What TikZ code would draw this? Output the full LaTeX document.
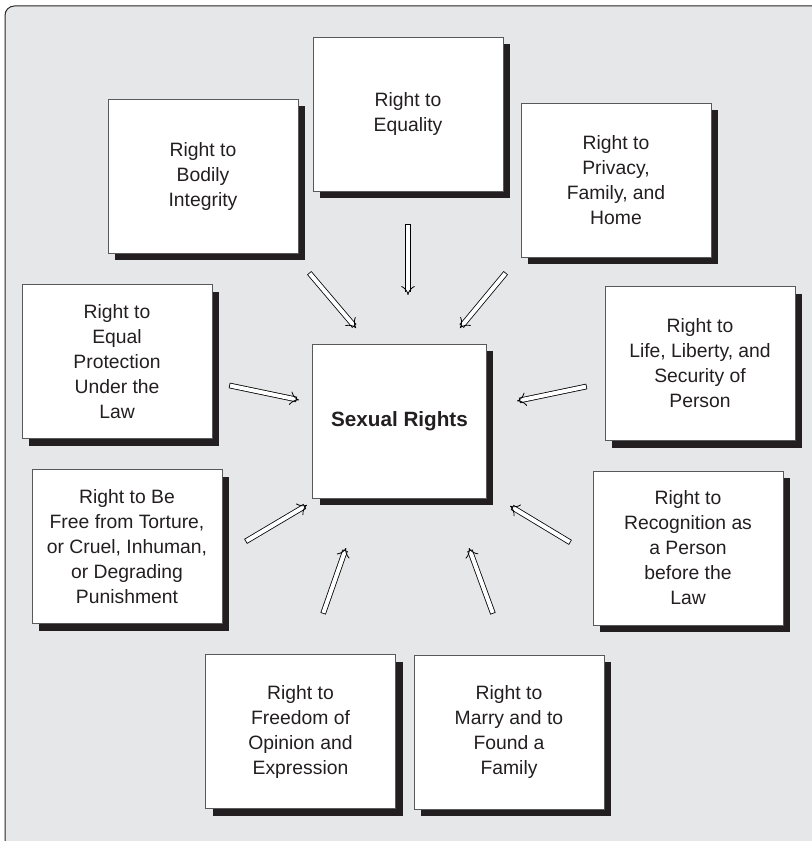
\documentclass[tikz,border=0pt]{standalone}
\usepackage{fontspec}
\setmainfont{Liberation Sans}
\usetikzlibrary{arrows.meta,shadows}
\definecolor{panelgray}{HTML}{E6E7E8}
\definecolor{shadowblack}{HTML}{231F20}
\definecolor{edgegray}{HTML}{58595B}

\begin{document}
\begin{tikzpicture}[x=0.75pt, y=-0.75pt,
	every node/.style={rectangle, draw=edgegray, line width=0.6pt, fill=white, text=shadowblack, align=center, inner sep=0pt, minimum width=142.5pt, minimum height=115.5pt, font=\fontsize{14.5}{18.75}\selectfont, drop shadow={shadow xshift=5.25pt, shadow yshift=-5.25pt, fill=shadowblack, opacity=1}},
	arr/.style={double=white, double distance=3pt, line width=0.6pt, line cap=rect, -{Implies[scale=1.4]}}]
			\useasboundingbox (0,0) rectangle (811,841);
			\draw[black!85, line width=0.75pt, fill=panelgray, rounded corners=7pt] (5,6) rectangle (840,870);
			
			\node (equality) at (408,114) {Right to\\Equality};
			\node (bodily) at (203,176.5) {Right to\\Bodily\\Integrity};
			\node (privacy) at (616,180) {Right to\\Privacy,\\Family, and\\Home};
			\node (protection) at (117,361.5) {Right to\\Equal\\Protection\\Under the\\Law};
			\node (life) at (700,363.5) {Right to\\Life, Liberty, and\\Security of\\Person};
			\node (torture) at (127,546.5) {Right to Be\\Free from Torture,\\or Cruel, Inhuman,\\or Degrading\\Punishment};
			\node (recognition) at (688,548) {Right to\\Recognition as\\a Person\\before the\\Law};
			\node (expression) at (300.5,731.5) {Right to\\Freedom of\\Opinion and\\Expression};
			\node (marry) at (509,732) {Right to\\Marry and to\\Found a\\Family};
			
			\node[minimum width=130pt, font=\fontsize{15.5}{18.75}\selectfont\bfseries] (sexual) at (399.5,421) {Sexual Rights};
			
			\coordinate (equality-tail) at (408,227);
			\coordinate (equality-head) at (408,295);
			\coordinate (bodily-tail) at (311,275);
			\coordinate (bodily-head) at (356,328);
			\coordinate (privacy-tail) at (504,275);
			\coordinate (privacy-head) at (460,328);
			\coordinate (protection-tail) at (232,386);
			\coordinate (protection-head) at (299,400);
			\coordinate (life-tail) at (584,387);
			\coordinate (life-head) at (517,401);
			\coordinate (torture-tail) at (248,540);
			\coordinate (torture-head) at (307,505);
			\coordinate (recognition-tail) at (568,541);
			\coordinate (recognition-head) at (510,506);
			\coordinate (expression-tail) at (324,611);
			\coordinate (expression-head) at (346,548);
			\coordinate (marry-tail) at (492,611);
			\coordinate (marry-head) at (469,548);
			
			\draw[arr] (equality-tail) -- (equality-head);
			\draw[arr] (bodily-tail) -- (bodily-head);
			\draw[arr] (privacy-tail) -- (privacy-head);
			\draw[arr] (protection-tail) -- (protection-head);
			\draw[arr] (life-tail) -- (life-head);
			\draw[arr] (torture-tail) -- (torture-head);
			\draw[arr] (recognition-tail) -- (recognition-head);
			\draw[arr] (expression-tail) -- (expression-head);
			\draw[arr] (marry-tail) -- (marry-head);
			
		\end{tikzpicture}
\end{document}
